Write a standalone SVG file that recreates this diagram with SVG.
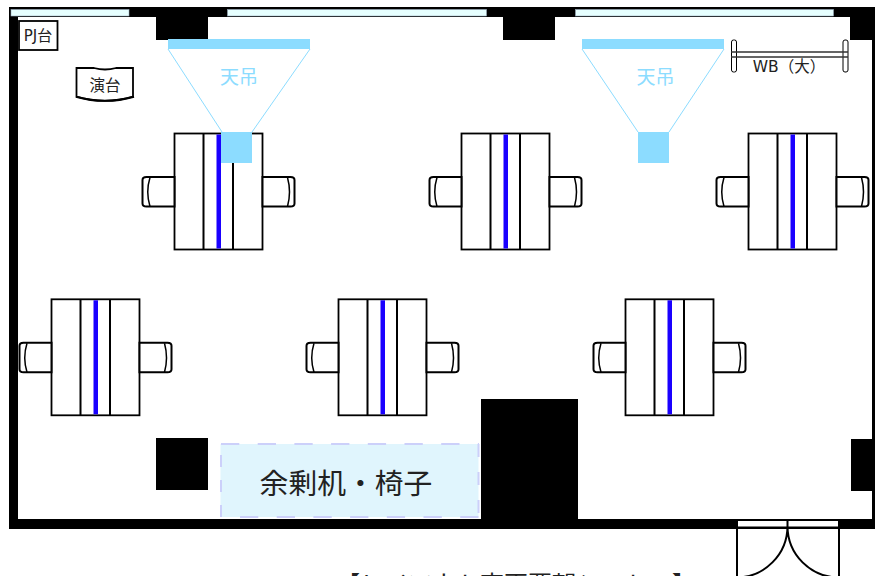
<svg xmlns="http://www.w3.org/2000/svg" width="875" height="576" viewBox="0 0 875 576">
<style>
text{font-family:"DejaVu Sans","Noto Sans CJK JP",sans-serif;fill:#222}
.t{fill:#fff;stroke:#000;stroke-width:1.8}
.l{fill:none;stroke:#000;stroke-width:2}
.w{fill:#000}
.win{fill:#e6ffff;stroke:#9ab;stroke-width:.6}
.pj{fill:#8cdcff}
.ray{stroke:#8cdcff;stroke-width:1;fill:none}
.blue{fill:#1a00ff}
.pjt{fill:#8cdcff;font-size:19px;text-anchor:middle}
.dash{fill:none;stroke:#ccd0fa;stroke-width:2}
</style>
<defs>
<g id="desk">
<rect class="t" x="0" y="0" width="88" height="116"/>
<path class="l" d="M29 0V116M58.500 0V116"/>
<rect class="blue" x="42" y="1" width="4.500" height="114"/>
<path class="t" d="M0 43.500H-28Q-32 43.500-32 46.500V70Q-32 73-28 73H0Z" style="stroke-width:2"/>
<path class="l" d="M-24.500 44Q-29 58.500-24.500 73" style="stroke-width:1.500"/>
<path class="t" d="M88 43.500H116Q120 43.500 120 46.500V70Q120 73 116 73H88Z" style="stroke-width:2"/>
<path class="l" d="M113 44Q117 58.500 113 73" style="stroke-width:1.500"/>
</g>
</defs>
<g id="walls">
<rect class="w" x="9" y="7" width="866" height="10"/>
<rect class="w" x="9" y="7" width="9" height="522"/>
<rect class="w" x="9" y="519" width="866" height="10"/>
<rect class="w" x="872" y="7" width="3" height="522"/>
<rect class="w" x="156" y="7" width="52" height="33"/>
<rect class="w" x="503" y="7" width="52" height="33"/>
<rect class="w" x="850" y="7" width="25" height="33"/>
<rect class="w" x="156" y="438" width="52" height="52"/>
<rect class="w" x="481" y="399" width="97" height="125"/>
<rect class="w" x="851" y="439" width="24" height="52"/>
<rect class="win" x="11" y="9.500" width="118" height="6.500"/>
<rect class="win" x="227.500" y="9.500" width="259" height="6.500"/>
<rect class="win" x="575.500" y="9.500" width="258" height="6.500"/>
</g>
<g id="desk-1"><use href="#desk" x="174.500" y="133.500"/></g>
<g id="desk-2"><use href="#desk" x="461.500" y="133.500"/></g>
<g id="desk-3"><use href="#desk" x="748.500" y="133.500"/></g>
<g id="desk-4"><use href="#desk" x="51.500" y="299.300"/></g>
<g id="desk-5"><use href="#desk" x="338.500" y="299.300"/></g>
<g id="desk-6"><use href="#desk" x="625.500" y="299.300"/></g>
<g id="pj-table"><rect class="t" x="19" y="21" width="38.500" height="29"/><text x="38" y="41" font-size="15" text-anchor="middle">PJ台</text></g>
<g id="podium"><path class="t" d="M76.500 68H94Q105 71 116 68H133V96.700Q105 105 76.500 96.700Z"/><path class="l" d="M76 96.700Q105 105 134 96.700"/><text x="105" y="91" font-size="15.500" text-anchor="middle">演台</text></g>
<g id="projector-1"><rect class="pj" x="168" y="39" width="142" height="10"/><path class="ray" d="M168 49L222 132M310 49L252 132"/><rect class="pj" x="221" y="132" width="31" height="31"/><text class="pjt" x="239" y="84">天吊</text></g>
<g id="projector-2"><rect class="pj" x="582" y="39" width="142" height="10"/><path class="ray" d="M582 49L638 132M724 49L669 132"/><rect class="pj" x="638" y="132" width="31" height="31"/><text class="pjt" x="655.500" y="84">天吊</text></g>
<g id="whiteboard"><rect class="t" x="731.500" y="40" width="5" height="32" rx="2" style="stroke-width:1"/><rect class="t" x="843" y="40" width="5" height="32" rx="2" style="stroke-width:1"/><path d="M731 52H848M731 57H848" stroke="#333" stroke-width="1.500"/><text x="789" y="71.500" font-size="15.500" text-anchor="middle">WB（大）</text></g>
<g id="spare"><rect x="220.500" y="444" width="258" height="73" fill="#e0f5fd"/><path class="dash" d="M221 444H479" stroke-dasharray="18.300 18.400"/><path class="dash" d="M240 517H479" stroke-dasharray="18.300 18.400"/><path class="dash" d="M221 455V517" stroke-dasharray="12 13"/><path class="dash" d="M478.500 444V517" stroke-dasharray="13 15"/><text x="346" y="494" font-size="28.800" text-anchor="middle">余剰机・椅子</text></g>
<g id="door"><rect x="737" y="520" width="102" height="7.500" fill="#fff"/><path class="l" d="M737 520H839M737 527.500H839M737 520V576M839 520V576M787.500 520V528M787.500 526A51.500 51.500 0 0 1 736 577.500M787.500 526A51.500 51.500 0 0 0 839 577.500"/></g>
<text id="caption" y="593" font-size="24"><tspan x="336">【レイアウト変更要望シート</tspan><tspan x="672">】</tspan></text>
</svg>
